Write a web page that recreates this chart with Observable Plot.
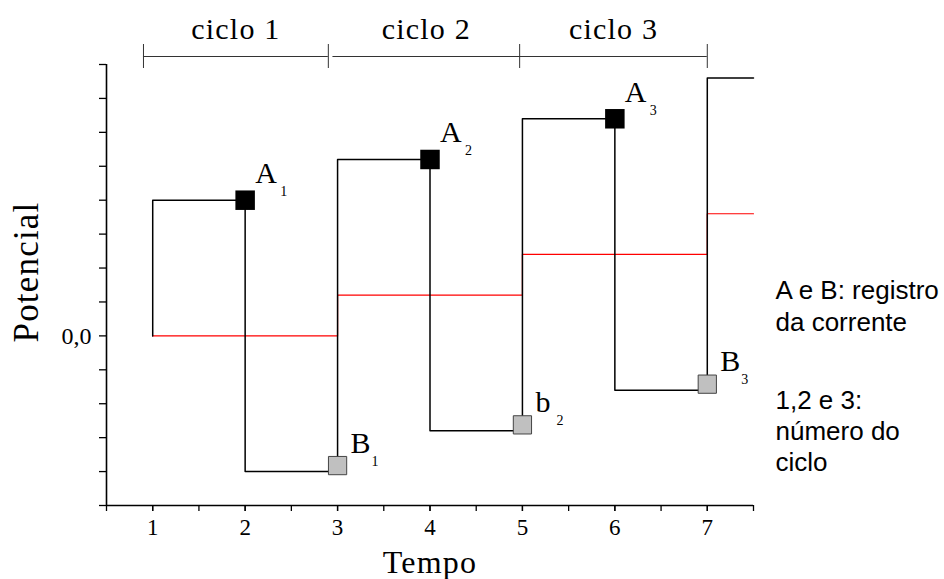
<!DOCTYPE html>
<html>
<head>
<meta charset="utf-8">
<script src="https://cdn.jsdelivr.net/npm/d3@7"></script>
<script src="https://cdn.jsdelivr.net/npm/@observablehq/plot@0.6"></script>
<style>
  body { margin: 0; background: #fff; }
  #chart svg { display: block; }
  .wide text { letter-spacing: 1.2px; }
</style>
</head>
<body>
<div id="chart"></div>
<script>
// Potential program (square-wave steps): time where each level starts, and the level
const stepTimes = [1, 1, 2, 3, 4, 5, 6, 7, 7.5];
const stepPotential = [0, 4, -4, 5.2, -2.8, 6.4, -1.6, 7.6, 7.6];

// Staircase of the mean potential of each cycle
const meanTimes = [1, 3, 5, 7, 7.5];
const meanPotential = [0, 1.2, 2.4, 3.6, 3.6];

// Current sampling points: A at the end of each forward pulse, B at the end of each reverse pulse
const aTimes = [2, 4, 6];
const aPotential = [4, 5.2, 6.4];
const aLetters = ["A", "A", "A"];
const aIndex = ["1", "2", "3"];

const bTimes = [3, 5, 7];
const bPotential = [-4, -2.8, -1.6];
const bLetters = ["B", "b", "B"];
const bIndex = ["1", "2", "3"];

// Cycle brackets along the top
const cycleNames = ["ciclo 1", "ciclo 2", "ciclo 3"];
const cycleStart = [0.9, 2.95, 4.97];
const cycleEnd = [2.9, 4.97, 7.0];

// Axis ticks
const xTickLabels = [1, 2, 3, 4, 5, 6, 7];
const xMinorTicks = [0.5, 1, 1.5, 2, 2.5, 3, 3.5, 4, 4.5, 5, 5.5, 6, 6.5, 7, 7.5];
const yTicks = [-5, -4, -3, -2, -1, 0, 1, 2, 3, 4, 5, 6, 7, 8];
const yZeroLabel = "0,0";

// Side notes
const noteSampling = "A e B: registro\nda corrente";
const noteCycles = "1,2 e 3:\nnúmero do\nciclo";

const steps = stepTimes.map((t, i) => ({t, v: stepPotential[i]}));
const means = meanTimes.map((t, i) => ({t, v: meanPotential[i]}));
const aPoints = aTimes.map((t, i) => ({t, v: aPotential[i], letter: aLetters[i], idx: aIndex[i]}));
const bPoints = bTimes.map((t, i) => ({t, v: bPotential[i], letter: bLetters[i], idx: bIndex[i]}));
const cycles = cycleNames.map((name, i) => ({name, x1: cycleStart[i], x2: cycleEnd[i], mid: (cycleStart[i] + cycleEnd[i]) / 2}));
// end ticks of the brackets (cycle 2 starts right after the tick closing cycle 1)
const bracketEnds = [cycleStart[0], ...cycleEnd];

const serif = "'Liberation Serif', 'DejaVu Serif', serif";
const sans = "'Liberation Sans', Arial, sans-serif";
const xMin = 0.5, xMax = 7.5, yMin = -5, yMax = 8;

const chart = Plot.plot({
  width: 944,
  height: 579,
  marginLeft: 106,
  marginRight: 191,
  marginTop: 64,
  marginBottom: 74,
  style: {fontFamily: serif, color: "#000", background: "#fff"},
  x: {domain: [xMin, xMax]},
  y: {domain: [yMin, yMax]},
  marks: [
    // minor + major x ticks
    Plot.axisX({ticks: xMinorTicks, tickSize: 6, tickFormat: () => "", strokeWidth: 1.3, label: null}),
    Plot.axisX({ticks: xTickLabels, tickSize: 6, tickPadding: 7, fontSize: 23, strokeWidth: 1.3,
      tickFormat: (d) => String(d), label: null}),
    Plot.axisY({ticks: yTicks, tickSize: 7, tickPadding: 8, fontSize: 24, strokeWidth: 1.3,
      tickFormat: (d) => (d === 0 ? yZeroLabel : ""), label: null}),
    // axis lines
    Plot.ruleX([xMin], {strokeWidth: 1.6}),
    Plot.ruleY([yMin], {strokeWidth: 1.6}),
    // axis titles
    Plot.text(["Tempo"], {frameAnchor: "bottom", dy: 67, lineAnchor: "bottom", textAnchor: "middle",
      fontSize: 32, className: "wide"}),
    Plot.text(["Potencial"], {frameAnchor: "left", dx: -80, dy: -13, rotate: -90, textAnchor: "middle",
      lineAnchor: "middle", fontSize: 35, className: "wide"}),
    // mean potential staircase
    Plot.line(means, {x: "t", y: "v", curve: "step-after", stroke: "#ff0000", strokeWidth: 1.2}),
    // applied potential program
    Plot.line(steps, {x: "t", y: "v", curve: "step-after", stroke: "#000", strokeWidth: 1.5}),
    // sampling markers
    Plot.dot(aPoints, {x: "t", y: "v", symbol: "square", r: 11, fill: "#000", stroke: "none"}),
    Plot.dot(bPoints, {x: "t", y: "v", dy: -6, symbol: "square", r: 10.3, fill: "#c0c0c0", stroke: "#444", strokeWidth: 1}),
    Plot.text(aPoints, {x: "t", y: "v", text: "letter", dx: 10, dy: -17, textAnchor: "start", lineAnchor: "bottom",
      fontSize: 30, fill: "#000"}),
    Plot.text(aPoints, {x: "t", y: "v", text: "idx", dx: 35, dy: -4, textAnchor: "start", lineAnchor: "bottom",
      fontSize: 14, fill: "#000"}),
    Plot.text(bPoints, {x: "t", y: "v", text: "letter", dx: 13, dy: -19, textAnchor: "start", lineAnchor: "bottom",
      fontSize: 30, fill: "#000"}),
    Plot.text(bPoints, {x: "t", y: "v", text: "idx", dx: 34, dy: -6, textAnchor: "start", lineAnchor: "bottom",
      fontSize: 14, fill: "#000"}),
    // cycle brackets
    Plot.ruleY(cycles, {y: yMax, x1: "x1", x2: "x2", dy: -8, stroke: "#333", strokeWidth: 1}),
    Plot.ruleX(bracketEnds, {x: (d) => d, y1: yMax, y2: yMax, insetTop: -20, insetBottom: -4, stroke: "#333", strokeWidth: 1}),
    Plot.text(cycles, {x: "mid", y: yMax, text: "name", dy: -26, lineAnchor: "bottom", fontSize: 30, fill: "#000",
      className: "wide"}),
    // side notes
    Plot.text([noteSampling], {frameAnchor: "top-right", dx: 22, dy: 212, textAnchor: "start", lineAnchor: "top",
      fontFamily: sans, fontSize: 26, lineHeight: 1.23, fill: "#000"}),
    Plot.text([noteCycles], {frameAnchor: "top-right", dx: 22, dy: 322, textAnchor: "start", lineAnchor: "top",
      fontFamily: sans, fontSize: 26, lineHeight: 1.2, fill: "#000"})
  ]
});

document.getElementById("chart").append(chart);
</script>
</body>
</html>
